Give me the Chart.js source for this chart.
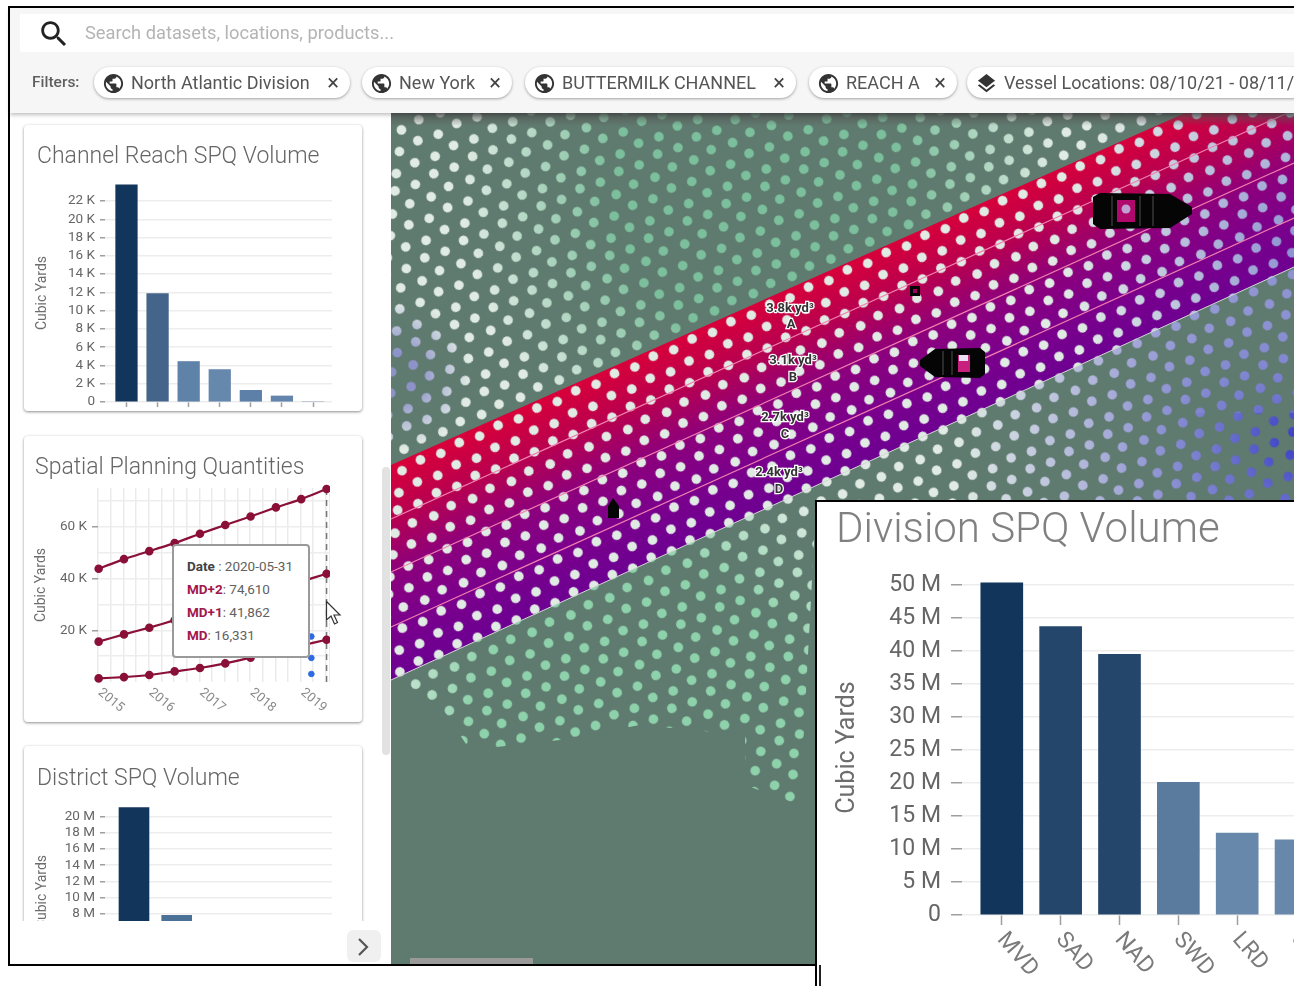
<!DOCTYPE html>
<html>
<head>
<meta charset="utf-8">
<title>Division SPQ Volume</title>
<script src="https://cdn.jsdelivr.net/npm/chart.js@4/dist/chart.umd.js"></script>
<style>
  html, body { margin: 0; padding: 0; background: #fff; overflow: hidden; }
  #root { position: relative; width: 1294px; height: 986px; overflow: hidden; font-family: Roboto, sans-serif; filter: blur(0.55px); }
  #root div, #root canvas, #root svg { position: absolute; }
  .card { background: #fff; border-radius: 4px; box-shadow: 0 1px 3px rgba(0,0,0,.45); }
  .cardTitle { font-weight: 300; color: #666; white-space: nowrap; }
  .chip { top: 67px; height: 31px; background: #fff; border-radius: 16px; box-shadow: 0 1px 3px rgba(0,0,0,.35); white-space: nowrap; }
  .chip span { position: absolute; top: 4px; font-size: 18px; line-height: 23px; color: #555; }
  .mapLabel { font: 700 13px Roboto, sans-serif; fill: #333; stroke: #fff; stroke-width: 2.5px; paint-order: stroke; text-anchor: middle; }
  #tip { left: 172px; top: 544px; width: 134px; height: 110px; background: #fff; border: 2px solid #9a9a9a; border-radius: 4px; font-size: 13.5px; color: #616161; }
  #tip div { left: 13px; white-space: nowrap; }
  #tip b { font-weight: 700; color: #a3174c; }
</style>
</head>
<body>
<div id="root">

  <!-- map background -->
  <svg width="1294" height="986" viewBox="0 0 1294 986" style="left:0;top:0">
    <defs>
      <linearGradient id="bandFill" gradientUnits="userSpaceOnUse" x1="800" y1="283" x2="880" y2="461">
        <stop offset="0" stop-color="#d8003a"/>
        <stop offset="0.24" stop-color="#b8004f"/>
        <stop offset="0.5" stop-color="#8c007c"/>
        <stop offset="0.75" stop-color="#7a008c"/>
        <stop offset="1" stop-color="#6c0092"/>
      </linearGradient>
      <linearGradient id="mapShade" x1="0" y1="0" x2="0" y2="1">
        <stop offset="0" stop-color="#555" stop-opacity=".75"/>
        <stop offset="1" stop-color="#555" stop-opacity="0"/>
      </linearGradient>
      <radialGradient id="greenUp" gradientUnits="userSpaceOnUse" cx="760" cy="190" r="300">
        <stop offset="0.5" stop-color="#7cbf9c"/>
        <stop offset="1" stop-color="#7cbf9c" stop-opacity="0"/>
      </radialGradient>
      <radialGradient id="greenDown" gradientUnits="userSpaceOnUse" cx="640" cy="730" r="280">
        <stop offset="0.6" stop-color="#8ed2ab"/>
        <stop offset="1" stop-color="#8ed2ab" stop-opacity="0"/>
      </radialGradient>
      <radialGradient id="blueDown" gradientUnits="userSpaceOnUse" cx="1294" cy="440" r="340">
        <stop offset="0" stop-color="#3a40c4"/>
        <stop offset="0.2" stop-color="#6a70cc"/>
        <stop offset="0.6" stop-color="#a9add8" stop-opacity=".9"/>
        <stop offset="1" stop-color="#a9add8" stop-opacity="0"/>
      </radialGradient>
      <radialGradient id="blueBand" gradientUnits="userSpaceOnUse" cx="1300" cy="250" r="240">
        <stop offset="0" stop-color="#8a8fd0"/>
        <stop offset="1" stop-color="#9a9fd6" stop-opacity="0"/>
      </radialGradient>
      <radialGradient id="blueLeft" gradientUnits="userSpaceOnUse" cx="395" cy="375" r="75">
        <stop offset="0.3" stop-color="#8d92c8"/>
        <stop offset="1" stop-color="#8d92c8" stop-opacity="0"/>
      </radialGradient>
      <!-- texture tile for the survey soundings -->
      <pattern id="dots" width="36" height="62" patternUnits="userSpaceOnUse" patternTransform="rotate(-24) scale(1.18)">
        <g fill="#fff">
          <circle cx="5" cy="7" r="4.1"/><circle cx="23" cy="5" r="4.1"/>
          <circle cx="13" cy="21" r="4.1"/><circle cx="31" cy="23" r="4.1"/>
          <circle cx="6" cy="38" r="4.1"/><circle cx="24" cy="36" r="4.1"/>
          <circle cx="14" cy="53" r="4.1"/><circle cx="31" cy="51" r="4.1"/>
        </g>
      </pattern>
      <mask id="dotMask" maskUnits="userSpaceOnUse" x="391" y="113" width="903" height="852">
        <polygon points="391,113 1294,113 1294,505 816,505 800,805 745,785 745,735 640,725 560,740 470,750 440,705 391,680" fill="url(#dots)"/>
      </mask>
    </defs>
    <rect x="391" y="113" width="903" height="852" fill="#5f7a6f"/>
    <polygon points="391,465 1185,113 1294,113 1294,267 391,680" fill="url(#bandFill)"/>
    <g mask="url(#dotMask)">
      <rect x="391" y="113" width="903" height="852" fill="#e0ebe4"/>
      <polygon points="391,113 1185,113 391,465" fill="url(#greenUp)"/>
      <polygon points="391,680 1294,267 1294,965 391,965" fill="url(#greenDown)"/>
      <polygon points="391,680 1294,267 1294,965 391,965" fill="url(#blueDown)"/>
      <rect x="900" y="113" width="394" height="300" fill="url(#blueBand)"/>
      <rect x="391" y="290" width="80" height="170" fill="url(#blueLeft)"/>
    </g>
    <g stroke="#f17fb0" stroke-width="1.2" fill="none">
      <line x1="391" y1="519" x2="1294" y2="110"/>
      <line x1="391" y1="572" x2="1294" y2="163"/>
      <line x1="391" y1="627" x2="1294" y2="218"/>
    </g>
    <line x1="391" y1="680" x2="1294" y2="267" stroke="#cfd8d2" stroke-width="1"/>
    <!-- vessels -->
    <g fill="#050505">
      <polygon points="1093,197 1100,193 1170,194 1192,207 1192,214 1170,228 1100,229 1093,224"/>
      <polygon points="985,352 980,348 935,349 920,360 920,366 935,377 980,378 985,374"/>
      <polygon points="613,498 619,506 619,518 608,518 608,506"/>
      <rect x="910" y="286" width="10" height="10"/>
    </g>
    <g stroke="#2a2a2a" stroke-width="2">
      <line x1="1112" y1="196" x2="1112" y2="226"/><line x1="1140" y1="196" x2="1140" y2="226"/><line x1="1153" y1="196" x2="1153" y2="226"/>
      <line x1="943" y1="351" x2="943" y2="375"/><line x1="952" y1="351" x2="952" y2="375"/>
    </g>
    <rect x="1117" y="200" width="18" height="22" fill="#b0086c"/>
    <circle cx="1126" cy="209" r="4.5" fill="#bfa0d0"/>
    <rect x="958" y="355" width="12" height="17" fill="#c8207e"/>
    <rect x="959" y="355" width="9" height="6" fill="#e8dff0"/>
    <rect x="913" y="289" width="4" height="4" fill="#a00060"/>
    <text class="mapLabel" x="790" y="312">3.8k yd³</text><text class="mapLabel" x="791" y="328">A</text>
    <text class="mapLabel" x="793" y="364">3.1k yd³</text><text class="mapLabel" x="793" y="381">B</text>
    <text class="mapLabel" x="785" y="421">2.7k yd³</text><text class="mapLabel" x="785" y="438">C</text>
    <text class="mapLabel" x="779" y="476">2.4k yd³</text><text class="mapLabel" x="779" y="493">D</text>
    <rect x="391" y="113" width="903" height="13" fill="url(#mapShade)"/>
    <rect x="410" y="958" width="123" height="7" fill="#9a9a9a"/>
  </svg>

  <!-- left panel with the small cards -->
  <div style="left:10px;top:113px;width:381px;height:852px;background:#fff"></div>
  <div class="card" style="left:24px;top:125px;width:338px;height:286px"></div>
  <div class="card" style="left:24px;top:436px;width:338px;height:286px"></div>
  <div style="left:10px;top:730px;width:372px;height:191px;overflow:hidden">
    <div class="card" style="left:14px;top:16px;width:338px;height:300px"></div>
  </div>
  <div class="cardTitle" style="left:37px;top:142px;font-size:23px">Channel Reach SPQ Volume</div>
  <div class="cardTitle" style="left:35px;top:453px;font-size:23px">Spatial Planning Quantities</div>
  <div class="cardTitle" style="left:37px;top:764px;font-size:23px">District SPQ Volume</div>
  <canvas id="reachChart" width="302" height="232" style="left:30px;top:180px"></canvas>
  <canvas id="spqChart" width="301" height="238" style="left:29px;top:484px"></canvas>
  <div style="left:10px;top:730px;width:372px;height:191px;overflow:hidden">
    <canvas id="districtChart" width="302" height="258" style="left:20px;top:71px"></canvas>
  </div>
  <div id="tip"></div>
  <svg width="20" height="28" viewBox="0 0 20 28" style="left:325px;top:600px">
    <polygon points="1.5,1.5 1.5,20 6,16 9.5,24 12.5,22.5 9,15 15,15" fill="#fff" stroke="#333" stroke-width="1.2"/>
  </svg>
  <div style="left:382px;top:467px;width:8px;height:288px;background:#e2e2e2;border-radius:4px"></div>
  <div style="left:347px;top:930px;width:34px;height:32px;background:#f0f0f0;border-radius:6px"></div>
  <svg width="16" height="20" viewBox="0 0 16 20" style="left:356px;top:937px">
    <polyline points="3,2 11,10 3,18" fill="none" stroke="#555" stroke-width="2.2"/>
  </svg>

  <!-- top bar -->
  <div style="left:10px;top:8px;width:1284px;height:105px;background:#f6f6f6;box-shadow:0 2px 4px rgba(0,0,0,.25)"></div>
  <div style="left:20px;top:14px;width:1274px;height:38px;background:#fff"></div>
  <svg width="34" height="34" viewBox="0 0 24 24" style="left:37px;top:17px">
    <path fill="#222" d="M15.5 14h-.79l-.28-.27C15.41 12.59 16 11.11 16 9.5 16 5.91 13.09 3 9.5 3S3 5.91 3 9.5 5.91 16 9.5 16c1.61 0 3.09-.59 4.23-1.57l.27.28v.79l5 4.99L20.49 19l-4.99-5zm-6 0C7.01 14 5 11.99 5 9.5S7.01 5 9.5 5 14 7.01 14 9.5 11.99 14 9.5 14z"/>
  </svg>
  <div style="left:85px;top:22px;font-size:18.3px;line-height:22px;color:#b4b4b4;white-space:nowrap">Search datasets, locations, products...</div>
  <div style="left:32px;top:72px;font-size:15.5px;line-height:20px;font-weight:500;color:#5f5f5f">Filters:</div>
  <div id="chips"></div>

  <!-- enlarged division panel -->
  <div style="left:815px;top:500px;width:500px;height:500px;background:#fff;border:2px solid #000"></div>
  <div style="left:819px;top:965px;width:2px;height:21px;background:#222"></div>
  <div class="cardTitle" style="left:836px;top:503px;font-size:42px;color:#808080">Division SPQ Volume</div>
  <canvas id="divisionChart" width="511" height="430" style="left:829px;top:556px"></canvas>

  <!-- screenshot frame -->
  <div style="left:8px;top:6px;width:1286px;height:2px;background:#000"></div>
  <div style="left:8px;top:6px;width:2px;height:960px;background:#000"></div>
  <div style="left:8px;top:964px;width:808px;height:2px;background:#000"></div>
</div>

<script>
// values
var reachValues = [23760, 11880, 4430, 3550, 1280, 660, 0];
var reachColors = ['#12355b', '#446489', '#5f82a8', '#6788ad', '#5c80a8', '#6384ab', '#6384ab'];
var reachTicks = [0, 2000, 4000, 6000, 8000, 10000, 12000, 14000, 16000, 18000, 20000, 22000];

var spqDates = [2014.92, 2015.42, 2015.92, 2016.42, 2016.92, 2017.42, 2017.92, 2018.42, 2018.92, 2019.42];
var mdPlus2 = [43800, 47500, 50600, 53700, 57300, 60700, 64000, 67500, 70700, 74610];
var mdPlus1 = [15600, 18400, 21000, 23900, 26900, 29800, 32700, 35700, 38800, 41862];
var md = [1400, 1900, 2700, 4100, 5400, 7200, 9400, 11600, 14100, 16331];
var hoverX = [2019.12, 2019.12, 2019.12];
var hoverValues = [17600, 9300, 3100];
var hoverDate = '2020-05-31';
var yearLabels = [2015, 2016, 2017, 2018, 2019];
var spqTicks = [10000, 20000, 30000, 40000, 50000, 60000, 70000];

var districtValues = [21090000, 7830000];
var districtColors = ['#12355b', '#4c7197'];
var districtTicks = [0, 2000000, 4000000, 6000000, 8000000, 10000000, 12000000, 14000000, 16000000, 18000000, 20000000];

var divisions = ['MVD', 'SAD', 'NAD', 'SWD', 'LRD', 'SPD'];
var divisionValues = [50350000, 43700000, 39500000, 20100000, 12400000, 11400000];
var divisionColors = ['#12355b', '#24466b', '#24466b', '#5a7a9e', '#6888ab', '#6888ab'];
var divisionTicks = [0, 5000000, 10000000, 15000000, 20000000, 25000000, 30000000, 35000000, 40000000, 45000000, 50000000];

var chipLabels = ['North Atlantic Division', 'New York', 'BUTTERMILK CHANNEL', 'REACH A', 'Vessel Locations: 08/10/21 - 08/11/21'];
var chipLefts = [94, 362, 525, 809, 967];
var chipWidths = [256, 150, 271, 148, 340];

var GLOBE = 'M12 2C6.48 2 2 6.48 2 12s4.48 10 10 10 10-4.48 10-10S17.52 2 12 2zm-1 17.93c-3.95-.49-7-3.85-7-7.93 0-.62.08-1.21.21-1.79L9 15v1c0 1.1.9 2 2 2v1.93zm6.9-2.54c-.26-.81-1-1.39-1.9-1.39h-1v-3c0-.55-.45-1-1-1H8v-2h2c.55 0 1-.45 1-1V7h2c1.1 0 2-.9 2-2v-.41c2.93 1.19 5 4.06 5 7.41 0 2.08-.8 3.97-2.1 5.39z';
var LAYERS = 'M11.99 18.54l-7.37-5.73L3 14.07l9 7 9-7-1.63-1.27-7.38 5.74zM12 16l7.36-5.73L21 9l-9-7-9 7 1.63 1.27L12 16z';

Chart.defaults.font.family = 'Roboto, sans-serif';
Chart.defaults.animation = false;
Chart.defaults.responsive = false;
Chart.defaults.plugins.legend.display = false;
Chart.defaults.plugins.tooltip.enabled = false;

// chart.js only rotates x labels around their end, these run down from the tick
var slantLabels = {
  id: 'slantLabels',
  afterDraw: function (chart, args, opts) {
    if (!opts.text) return;
    var ctx = chart.ctx;
    var scale = chart.scales.x;
    ctx.save();
    ctx.font = opts.font;
    ctx.fillStyle = opts.color;
    ctx.textAlign = 'left';
    ctx.textBaseline = 'middle';
    opts.at.forEach(function (value, i) {
      ctx.save();
      ctx.translate(scale.getPixelForValue(value) + opts.dx, chart.chartArea.bottom + opts.dy);
      ctx.rotate(opts.angle * Math.PI / 180);
      ctx.fillText(opts.text[i], 0, 0);
      ctx.restore();
    });
    ctx.restore();
  }
};
Chart.register(slantLabels);

function points(xs, ys) {
  return ys.map(function (y, i) { return { x: xs[i], y: y }; });
}

function positions(list) {
  return list.map(function (v, i) { return i + 1; });
}

function useTicks(list) {
  return function (axis) {
    axis.ticks = list.map(function (v) { return { value: v }; });
  };
}

// integer slots on a linear x axis so the grid can run past the first and last bar
function slotAxis(min, max, tickLength, slots) {
  return {
    type: 'linear',
    bounds: 'data',
    offset: false,
    min: min,
    max: max,
    border: { display: false },
    ticks: { display: false },
    grid: { offset: false, drawOnChartArea: false, tickLength: tickLength, tickColor: '#9e9e9e', tickWidth: 1.5 },
    afterBuildTicks: useTicks(slots)
  };
}

// pin the axis box, and drop the margin chart.js keeps for half a tick label
function fixedSize(axis, key, size) {
  axis.afterFit = function (s) {
    s[key] = size;
    s.paddingTop = s.paddingBottom = s.paddingLeft = s.paddingRight = 0;
  };
  return axis;
}

function barChart(id, values, colors, barWidth, xAxis, yAxis, xHeight, topPad, labelOpts) {
  return new Chart(document.getElementById(id), {
    type: 'bar',
    data: {
      datasets: [{
        data: points(positions(values), values),
        backgroundColor: colors,
        barThickness: barWidth
      }]
    },
    options: {
      layout: { autoPadding: false, padding: { top: topPad } },
      scales: { x: fixedSize(xAxis, 'height', xHeight), y: yAxis },
      plugins: { slantLabels: labelOpts || {} }
    }
  });
}

function valueAxis(max, tickList, suffix, scale, width, fontSize, color, titleSize, tickLength, pad) {
  return fixedSize({
    bounds: 'data',
    min: 0,
    max: max,
    border: { display: false },
    title: { display: true, text: 'Cubic Yards', color: '#6d6d6d', font: { size: titleSize } },
    afterBuildTicks: useTicks(tickList),
    ticks: {
      autoSkip: false,
      padding: pad,
      color: color,
      font: { size: fontSize },
      callback: function (v) { return v === 0 ? '0' : (v / scale) + ' ' + suffix; }
    },
    grid: { color: '#ededed', lineWidth: 1.5, tickColor: '#9e9e9e', tickLength: tickLength, tickWidth: 1.5 }
  }, 'width', width);
}

// Channel Reach SPQ Volume
barChart('reachChart', reachValues, reachColors, 21.6,
  slotAxis(0.3087, 7.611, 5, positions(reachValues)),
  valueAxis(23860, reachTicks, 'K', 1000, 75, 13.5, '#666', 14, 5, 5),
  10, 4);

// Spatial Planning Quantities
var lineStyle = {
  borderColor: '#8a1038',
  backgroundColor: '#8a1038',
  borderWidth: 2.2,
  pointRadius: 3.2,
  tension: 0.15,
  clip: false
};

function lineSet(label, ys) {
  return Object.assign({ label: label, data: points(spqDates, ys) }, lineStyle);
}

var spqY = valueAxis(75000, spqTicks, 'K', 1000, 69, 13.5, '#666', 14, 6, 5);
spqY.ticks.callback = function (v) { return v % 20000 === 0 ? (v / 1000) + ' K' : ''; };
spqY.grid.tickColor = function (c) { return c.tick.value % 20000 === 0 ? '#9e9e9e' : 'transparent'; };

var lastDate = spqDates[spqDates.length - 1];

new Chart(document.getElementById('spqChart'), {
  type: 'line',
  data: {
    datasets: [
      lineSet('MD+2', mdPlus2),
      lineSet('MD+1', mdPlus1),
      lineSet('MD', md),
      { label: 'hover', data: points(hoverX, hoverValues), showLine: false, pointRadius: 2.8, backgroundColor: '#2f6be0', borderColor: '#2f6be0', clip: false },
      { label: 'cursor', data: points([lastDate, lastDate], [0, mdPlus2[mdPlus2.length - 1]]), pointRadius: 0, borderColor: '#777', borderWidth: 1.5, borderDash: [6, 5] }
    ]
  },
  options: {
    layout: { autoPadding: false, padding: { top: 4 } },
    scales: {
      x: fixedSize({
        type: 'linear',
        bounds: 'data',
        min: 2014.907,
        max: 2019.488,
        border: { display: false },
        ticks: { display: false, stepSize: 0.25, includeBounds: false },
        grid: {
          color: '#ebebeb',
          lineWidth: 1.5,
          tickLength: 5,
          tickWidth: 1.5,
          tickColor: function (c) { return c.tick.value % 1 === 0 ? '#9e9e9e' : 'transparent'; }
        }
      }, 'height', 40),
      y: spqY
    },
    plugins: {
      slantLabels: { text: yearLabels, at: yearLabels, font: '13px Roboto, sans-serif', color: '#8a8a8a', angle: 40, dx: -3, dy: 9 }
    }
  }
});

// District SPQ Volume, cut off by the panel
barChart('districtChart', districtValues, districtColors, 30,
  slotAxis(0.321, 5.637, 5, positions(districtValues)),
  valueAxis(21400000, districtTicks, 'M', 1000000, 75, 13.5, '#666', 14, 5, 5),
  80, 4);

// Division SPQ Volume
barChart('divisionChart', divisionValues, divisionColors, 42,
  slotAxis(0.3237, 6.747, 10, positions(divisions)),
  valueAxis(50760000, divisionTicks, 'M', 1000000, 133, 23, '#666', 25, 11, 10),
  71, 24,
  { text: divisions, at: positions(divisions), font: '23px Roboto, sans-serif', color: '#7a7a7a', angle: 49, dx: -1, dy: 21 });

// tooltip box
function tipLine(top, label, value, color) {
  return '<div style="top:' + top + 'px"><b style="color:' + color + '">' + label + '</b>' + value + '</div>';
}
document.getElementById('tip').innerHTML =
  tipLine(12, 'Date', ' : ' + hoverDate, '#424242') +
  tipLine(35, 'MD+2', ': ' + mdPlus2[mdPlus2.length - 1].toLocaleString('en-US'), '#a3174c') +
  tipLine(58, 'MD+1', ': ' + mdPlus1[mdPlus1.length - 1].toLocaleString('en-US'), '#a3174c') +
  tipLine(81, 'MD', ': ' + md[md.length - 1].toLocaleString('en-US'), '#a3174c');

// filter chips
var chipsHtml = '';
chipLabels.forEach(function (label, i) {
  var icon = i === 4 ? LAYERS : GLOBE;
  chipsHtml += '<div class="chip" style="left:' + chipLefts[i] + 'px;width:' + chipWidths[i] + 'px">' +
    '<svg width="23" height="23" viewBox="0 0 24 24" style="left:8px;top:5px"><path fill="#333" d="' + icon + '"/></svg>' +
    '<span style="left:37px">' + label + '</span>' +
    (i === 4 ? '' : '<span style="right:11px;color:#444;font-size:22px">×</span>') +
    '</div>';
});
document.getElementById('chips').innerHTML = chipsHtml;
</script>
</body>
</html>
